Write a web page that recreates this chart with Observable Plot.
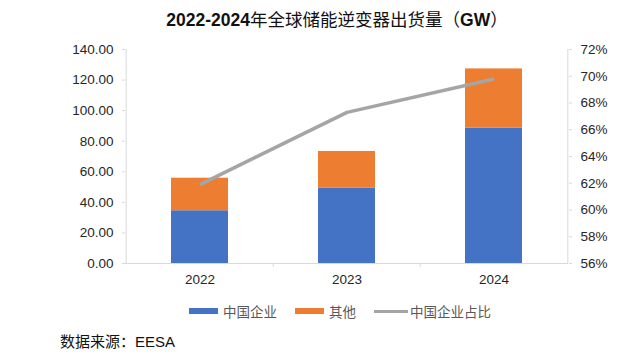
<!DOCTYPE html>
<html>
<head>
<meta charset="utf-8">
<script src="https://cdn.jsdelivr.net/npm/d3@7"></script>
<script src="https://cdn.jsdelivr.net/npm/@observablehq/plot@0.6"></script>
<style>
  body { margin: 0; background: #fff; }
  #wrap { position: relative; width: 640px; height: 357px; overflow: hidden; background: #fff;
          font-family: "Liberation Sans", Arial, "Noto Sans CJK SC", sans-serif; }
  #title { position: absolute; left: 0; top: 8px; width: 640px; padding-left: 34px; box-sizing: border-box;
           text-align: center; font-size: 17.5px; line-height: 21px; color: #111; white-space: nowrap; }
  #title .num { font-weight: bold; font-family: "Liberation Sans", Arial, sans-serif; }
  #title .cjk { font-family: "Noto Sans CJK SC", sans-serif; font-weight: normal; }
  #chart { position: absolute; left: 0; top: 0; }
  #legend { position: absolute; left: 0; top: 301px; width: 640px; height: 20px; display: flex;
            justify-content: center; align-items: center; padding-left: 40px; box-sizing: border-box;
            font-family: "Noto Sans CJK SC", sans-serif; font-size: 13.5px; color: #595959; white-space: nowrap; }
  #legend .item { display: flex; align-items: center; margin: 0 9px; }
  #legend .sw { display: inline-block; margin-right: 5px; }
  #caption { position: absolute; left: 60px; top: 331px; font-size: 15px; line-height: 20px; color: #111; white-space: nowrap; }
  #caption .cjk { font-family: "Noto Sans CJK SC", sans-serif; }
</style>
</head>
<body>
<div id="wrap">
  <div id="chart"></div>
  <div id="title"></div>
  <div id="legend"></div>
  <div id="caption"></div>
</div>
<script>
// ---- data ----
const years = ["2022", "2023", "2024"];
const chinaGW = [34.5, 49.2, 88.5];       // 中国企业
const otherGW = [21.3, 24.1, 38.8];       // 其他
const chinaShare = [61.9, 67.3, 69.8];    // 中国企业占比 (%)
const seriesNames = ["中国企业", "其他", "中国企业占比"];
const seriesColors = ["#4472C4", "#ED7D31", "#A5A5A5"];
const leftTicks = [0, 20, 40, 60, 80, 100, 120, 140];
const rightTicks = [56, 58, 60, 62, 64, 66, 68, 70, 72];
const titleParts = [["num", "2022-2024"], ["cjk", "年全球储能逆变器出货量（"], ["num", "GW"], ["cjk", "）"]];
const captionParts = [["cjk", "数据来源："], ["num", "EESA"]];

// ---- layout ----
const W = 640, H = 300, mL = 125, mR = 72, mT = 49, mB = 37;
const half = (W - mL - mR) / years.length / 2;
const leftMax = leftTicks[leftTicks.length - 1];
const rMin = rightTicks[0], rMax = rightTicks[rightTicks.length - 1];
const toLeft = p => (p - rMin) / (rMax - rMin) * leftMax;
const axisGray = "#d9d9d9";

const bars = years.flatMap((y, i) => [
  {year: y, series: seriesNames[0], v: chinaGW[i]},
  {year: y, series: seriesNames[1], v: otherGW[i]}
]);
const linePts = years.map((y, i) => ({year: y, v: toLeft(chinaShare[i])}));

const chart = Plot.plot({
  width: W, height: H,
  marginTop: mT, marginBottom: mB, marginLeft: mL, marginRight: mR,
  style: {fontFamily: '"Liberation Sans", Arial, sans-serif', fontSize: "13.5px", color: "#262626", background: "transparent", overflow: "visible"},
  x: {domain: years, paddingInner: 0.61, paddingOuter: 0.305, label: null},
  y: {domain: [0, leftMax], label: null},
  color: {domain: seriesNames.slice(0, 2), range: seriesColors.slice(0, 2)},
  marks: [
    Plot.barY(bars, {x: "year", y: "v", fill: "series"}),
    Plot.ruleY([0], {stroke: axisGray, strokeWidth: 1}),
    Plot.ruleX([years[0]], {y1: 0, y2: leftMax, dx: -half, stroke: axisGray}),
    Plot.ruleX([years[years.length - 1]], {y1: 0, y2: leftMax, dx: half, stroke: axisGray}),
    Plot.ruleX(years.slice(1), {y1: 0, y2: 0, dx: -half, insetBottom: -4, stroke: axisGray}),
    Plot.line(linePts, {x: "year", y: "v", stroke: seriesColors[2], strokeWidth: 3.5, strokeLinecap: "butt"}),
    Plot.axisY({anchor: "left", ticks: leftTicks, tickFormat: d => d.toFixed(2), tickSize: 3, tickPadding: 9, stroke: axisGray, fill: "#262626", label: null}),
    Plot.axisY({anchor: "right", ticks: rightTicks.map(toLeft), tickFormat: d => Math.round(rMin + d / leftMax * (rMax - rMin)) + "%", tickSize: 3, tickPadding: 9, stroke: axisGray, fill: "#262626", label: null}),
    Plot.axisX({tickSize: 0, tickPadding: 11, fill: "#262626", label: null})
  ]
});
document.getElementById("chart").appendChild(chart);

// title
const t = document.getElementById("title");
titleParts.forEach(([cls, txt]) => { const s = document.createElement("span"); s.className = cls; s.textContent = txt; t.appendChild(s); });

// legend
const lg = document.getElementById("legend");
seriesNames.forEach((name, i) => {
  const it = document.createElement("span"); it.className = "item";
  const sw = document.createElement("span"); sw.className = "sw";
  if (i < 2) { sw.style.width = "29px"; sw.style.height = "6px"; }
  else { sw.style.width = "34px"; sw.style.height = "3px"; sw.style.marginRight = "2px"; }
  sw.style.background = seriesColors[i];
  const tx = document.createElement("span"); tx.textContent = name;
  it.appendChild(sw); it.appendChild(tx); lg.appendChild(it);
});

// caption
const c = document.getElementById("caption");
captionParts.forEach(([cls, txt]) => { const s = document.createElement("span"); s.className = cls; s.textContent = txt; c.appendChild(s); });
</script>
</body>
</html>
